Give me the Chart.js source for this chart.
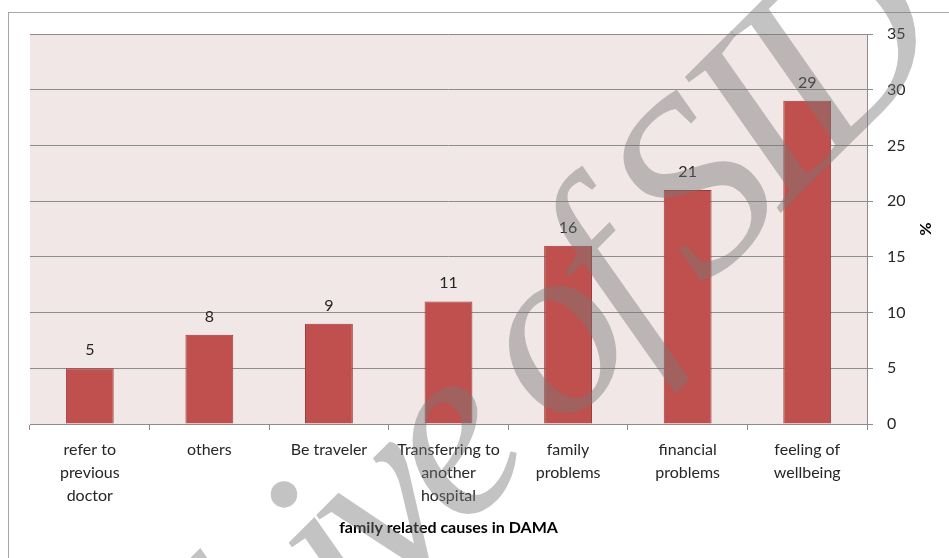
<!DOCTYPE html>
<html>
<head>
<meta charset="utf-8">
<script src="https://cdn.jsdelivr.net/npm/chart.js@4.4.1/dist/chart.umd.min.js"></script>
<style>
  html, body { margin: 0; padding: 0; background: #fff; }
</style>
</head>
<body>
<canvas id="barChart" width="949" height="558"></canvas>
<script>
// Categorías (eje X) y valores en %
const causas = [
  ['refer to', 'previous', 'doctor'],
  ['others'],
  ['Be traveler'],
  ['Transferring to', 'another', 'hospital'],
  ['family', 'problems'],
  ['financial', 'problems'],
  ['feeling of', 'wellbeing']
];
const porcentajes = [5, 8, 9, 11, 16, 21, 29];
const ejeY = { min: 0, max: 35, paso: 5 };
const tituloX = 'family related causes in DAMA';
const tituloY = '%';
const marcaAgua = 'Archive of SID';

const fuente = 'Lato';
const colorTexto = '#262626';

// Fondo del área del gráfico y marco exterior
const fondoPlugin = {
  id: 'fondo',
  beforeDraw(chart) {
    const { ctx, chartArea } = chart;
    ctx.save();
    ctx.fillStyle = '#fff';
    ctx.fillRect(0, 0, chart.width, chart.height);
    ctx.strokeStyle = '#a6a6a6';
    ctx.lineWidth = 1;
    ctx.strokeRect(8.5, 12.5, chart.width + 20, chart.height + 20);
    ctx.fillStyle = '#f2e7e7';
    ctx.fillRect(chartArea.left, chartArea.top, chartArea.right - chartArea.left, chartArea.bottom - chartArea.top);
    ctx.restore();
  }
};

// Etiquetas de valor encima de cada barra
const etiquetasPlugin = {
  id: 'etiquetas',
  afterDatasetsDraw(chart) {
    const { ctx } = chart;
    const meta = chart.getDatasetMeta(0);
    ctx.save();
    ctx.font = '16px ' + fuente;
    ctx.fillStyle = colorTexto;
    ctx.textAlign = 'center';
    ctx.textBaseline = 'alphabetic';
    meta.data.forEach((bar, i) => {
      ctx.fillText(String(porcentajes[i]), bar.x, bar.y - 13);
    });
    ctx.restore();
  }
};

// Marca de agua diagonal, anclada en el centro de la "S"
const aguaPlugin = {
  id: 'agua',
  afterDraw(chart) {
    const { ctx } = chart;
    const tam = 250;
    const espacio = -17;
    const ang = -45 * Math.PI / 180;
    ctx.save();
    ctx.font = 'italic ' + tam + 'px "Liberation Serif"';
    ctx.letterSpacing = espacio + 'px';
    const antes = ctx.measureText('Archive of ').width;
    const anchoS = ctx.measureText('S').width - espacio;
    const px = antes + anchoS / 2 + 0.08 * tam;
    const py = -0.33 * tam;
    const ox = px * Math.cos(ang) - py * Math.sin(ang);
    const oy = px * Math.sin(ang) + py * Math.cos(ang);
    ctx.translate(705 - ox, 172 - oy);
    ctx.rotate(ang);
    ctx.fillStyle = 'rgba(119,119,119,0.44)';
    ctx.textAlign = 'left';
    ctx.textBaseline = 'alphabetic';
    ctx.fillText(marcaAgua, 0, 0);
    ctx.restore();
  }
};

const ctx = document.getElementById('barChart').getContext('2d');

let barChart = new Chart(ctx, {
  type: 'bar',
  data: {
    labels: causas,
    datasets: [{
      label: '%',
      data: porcentajes,
      backgroundColor: '#c0504d',
      borderColor: '#9a3b38',
      borderWidth: 1,
      categoryPercentage: 1,
      barPercentage: 0.4
    }]
  },
  options: {
    responsive: false,
    animation: false,
    layout: { padding: { left: 30, top: 34, right: 0, bottom: 0 } },
    plugins: {
      legend: { display: false },
      tooltip: { enabled: false }
    },
    scales: {
      x: {
        grid: {
          offset: true,
          drawOnChartArea: false,
          color: '#8c8c8c',
          tickLength: 6
        },
        border: { color: '#8c8c8c' },
        ticks: {
          color: colorTexto,
          font: { family: fuente, size: 16, lineHeight: 1.45 },
          padding: 8,
          maxRotation: 0,
          autoSkip: false
        },
        title: {
          display: true,
          text: tituloX,
          color: '#000',
          font: { family: fuente, size: 16, weight: 'bold' },
          padding: { top: 4, bottom: 21 }
        },
        afterFit: scale => { scale.height = 134; }
      },
      y: {
        position: 'right',
        min: ejeY.min,
        max: ejeY.max,
        grid: {
          color: '#8c8c8c',
          tickLength: 6
        },
        border: { color: '#8c8c8c' },
        ticks: {
          stepSize: ejeY.paso,
          color: colorTexto,
          font: { family: fuente, size: 16 },
          padding: 14
        },
        title: {
          display: true,
          text: tituloY,
          color: '#000',
          font: { family: fuente, size: 16, weight: 'bold' },
          padding: { top: 14, bottom: 0 }
        },
        afterFit: scale => { scale.width = 82; }
      }
    }
  },
  plugins: [fondoPlugin, etiquetasPlugin, aguaPlugin]
});
</script>
</body>
</html>
